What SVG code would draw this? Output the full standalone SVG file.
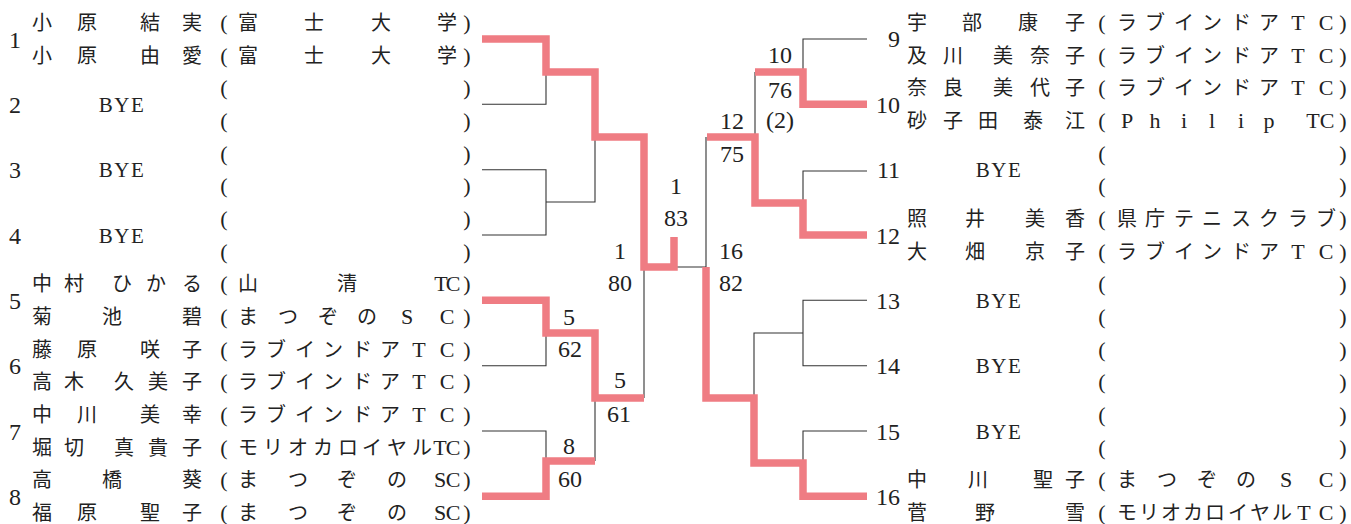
<svg xmlns="http://www.w3.org/2000/svg" width="1351" height="524" viewBox="0 0 1351 524">
<style>
.t{font-family:"Liberation Serif","Noto Sans CJK JP",serif;font-size:20px;fill:#222;text-anchor:middle}
.L{font-size:22px}
.p{font-size:22px}
.n{font-family:"Liberation Serif",serif;font-size:24px;fill:#222;text-anchor:middle}
.ne{font-family:"Liberation Serif",serif;font-size:24px;fill:#222;text-anchor:end}
.bye{font-family:"Liberation Serif",serif;font-size:21px;fill:#222;text-anchor:middle;letter-spacing:1.5px}
.ln{fill:none;stroke:#333;stroke-width:1.1}
.win{fill:none;stroke:#ef7c83;stroke-width:7.5;stroke-linejoin:miter;stroke-linecap:butt}
</style>
<rect width="1351" height="524" fill="#fff"/>
<g id="connectors">
<path class="ln" d="M482,104.3H546V72"/>
<path class="ln" d="M482,169.7H546V235H482M546,202H595V137"/>
<path class="ln" d="M482,365.7H546V333"/>
<path class="ln" d="M482,431H546V461"/>
<path class="ln" d="M595,398V461"/>
<path class="ln" d="M644,398V267"/>
<path class="ln" d="M674,267H706V137"/>
<path class="ln" d="M867,39H803V72"/>
<path class="ln" d="M755,72V137"/>
<path class="ln" d="M867,171H803V203"/>
<path class="ln" d="M867,300.3H803V365.7H867M803,333H754V398"/>
<path class="ln" d="M867,431H803V463"/>
<path class="win" d="M482,39H546V72H595V137H644V267H674V237"/>
<path class="win" d="M482,300.3H546V333H595V398H644"/>
<path class="win" d="M482,496.3H546V461H595"/>
<path class="win" d="M706,267V398H754V463H803V496.3H867"/>
<path class="win" d="M707,137H755V203H803V235H867"/>
<path class="win" d="M755,72H803V104.3H867"/>
</g>
<g id="scores">
<text class="n" x="569" y="325">5</text>
<text class="n" x="570" y="357">62</text>
<text class="n" x="620" y="388">5</text>
<text class="n" x="619" y="422">61</text>
<text class="n" x="569" y="454">8</text>
<text class="n" x="570" y="487">60</text>
<text class="n" x="620" y="259">1</text>
<text class="n" x="620" y="291">80</text>
<text class="n" x="676" y="194">1</text>
<text class="n" x="676" y="226">83</text>
<text class="n" x="731" y="259">16</text>
<text class="n" x="731" y="291">82</text>
<text class="n" x="732" y="129">12</text>
<text class="n" x="732" y="162">75</text>
<text class="n" x="780" y="63">10</text>
<text class="n" x="780" y="98">76</text>
<text class="n" x="780" y="128">(2)</text>
</g>
<g id="seed1">
<text class="n" x="15" y="47.5">1</text>
<text class="t" x="42 87 150 192 224 248 314 381 447 467" y="30">小原結実<tspan class="p">(</tspan>富士大学<tspan class="p">)</tspan></text>
<text class="t" x="42 87 150 192 224 248 314 381 447 467" y="62.7">小原由愛<tspan class="p">(</tspan>富士大学<tspan class="p">)</tspan></text>
</g>
<g id="seed2">
<text class="n" x="15" y="112.8">2</text>
<text class="bye" x="122" y="111.8">BYE</text>
<text class="t p" x="224 467" y="95.3">()</text>
<text class="t p" x="224 467" y="128">()</text>
</g>
<g id="seed3">
<text class="n" x="15" y="178.2">3</text>
<text class="bye" x="122" y="177.2">BYE</text>
<text class="t p" x="224 467" y="160.7">()</text>
<text class="t p" x="224 467" y="193.3">()</text>
</g>
<g id="seed4">
<text class="n" x="15" y="243.5">4</text>
<text class="bye" x="122" y="242.5">BYE</text>
<text class="t p" x="224 467" y="226">()</text>
<text class="t p" x="224 467" y="258.7">()</text>
</g>
<g id="seed5">
<text class="n" x="15" y="308.8">5</text>
<text class="t" x="42 74 122 156 192 224 248 347 441 453 467" y="291.3">中村ひかる<tspan class="p">(</tspan>山清<tspan class="L">TC</tspan><tspan class="p">)</tspan></text>
<text class="t" x="42 112 192 224 248 288 328 367 407 447 467" y="324">菊池碧<tspan class="p">(</tspan>まつぞの<tspan class="L">SC</tspan><tspan class="p">)</tspan></text>
</g>
<g id="seed6">
<text class="n" x="15" y="374.2">6</text>
<text class="t" x="42 87 150 192 224 248 276 305 333 362 390 419 447 467" y="356.7">藤原咲子<tspan class="p">(</tspan>ラブインドア<tspan class="L">TC</tspan><tspan class="p">)</tspan></text>
<text class="t" x="42 74 124 158 192 224 248 276 305 333 362 390 419 447 467" y="389.3">高木久美子<tspan class="p">(</tspan>ラブインドア<tspan class="L">TC</tspan><tspan class="p">)</tspan></text>
</g>
<g id="seed7">
<text class="n" x="15" y="439.5">7</text>
<text class="t" x="42 87 150 192 224 248 276 305 333 362 390 419 447 467" y="422">中川美幸<tspan class="p">(</tspan>ラブインドア<tspan class="L">TC</tspan><tspan class="p">)</tspan></text>
<text class="t" x="42 74 124 158 192 224 248 273 298 323 348 372 397 422 440 453 467" y="454.7">堀切真貴子<tspan class="p">(</tspan>モリオカロイヤル<tspan class="L">TC</tspan><tspan class="p">)</tspan></text>
</g>
<g id="seed8">
<text class="n" x="15" y="504.8">8</text>
<text class="t" x="42 112 192 224 248 298 347 397 440 453 467" y="487.3">高橋葵<tspan class="p">(</tspan>まつぞの<tspan class="L">SC</tspan><tspan class="p">)</tspan></text>
<text class="t" x="42 87 150 192 224 248 298 347 397 440 453 467" y="520">福原聖子<tspan class="p">(</tspan>まつぞの<tspan class="L">SC</tspan><tspan class="p">)</tspan></text>
</g>
<g id="seed9">
<text class="ne" x="900" y="46.5">9</text>
<text class="t" x="917 972 1028 1075 1102 1127 1155 1184 1212 1241 1269 1298 1326 1343" y="30">宇部康子<tspan class="p">(</tspan>ラブインドア<tspan class="L">TC</tspan><tspan class="p">)</tspan></text>
<text class="t" x="917 953 1003 1040 1075 1102 1127 1155 1184 1212 1241 1269 1298 1326 1343" y="62.7">及川美奈子<tspan class="p">(</tspan>ラブインドア<tspan class="L">TC</tspan><tspan class="p">)</tspan></text>
</g>
<g id="seed10">
<text class="ne" x="900" y="112.8">10</text>
<text class="t" x="917 953 1003 1040 1075 1102 1127 1155 1184 1212 1241 1269 1298 1326 1343" y="95.3">奈良美代子<tspan class="p">(</tspan>ラブインドア<tspan class="L">TC</tspan><tspan class="p">)</tspan></text>
<text class="t" x="917 953 988 1033 1075 1102 1127 1155 1184 1212 1241 1269 1292 1313 1327 1343" y="128">砂子田泰江<tspan class="p">(</tspan><tspan class="L">Philip TC</tspan><tspan class="p">)</tspan></text>
</g>
<g id="seed11">
<text class="ne" x="900" y="178.2">11</text>
<text class="bye" x="999" y="177.2">BYE</text>
<text class="t p" x="1102 1343" y="160.7">()</text>
<text class="t p" x="1102 1343" y="193.3">()</text>
</g>
<g id="seed12">
<text class="ne" x="900" y="243.5">12</text>
<text class="t" x="917 975 1035 1075 1102 1127 1155 1184 1212 1241 1269 1298 1326 1343" y="226">照井美香<tspan class="p">(</tspan>県庁テニスクラブ<tspan class="p">)</tspan></text>
<text class="t" x="917 975 1035 1075 1102 1127 1155 1184 1212 1241 1269 1298 1326 1343" y="258.7">大畑京子<tspan class="p">(</tspan>ラブインドア<tspan class="L">TC</tspan><tspan class="p">)</tspan></text>
</g>
<g id="seed13">
<text class="ne" x="900" y="308.8">13</text>
<text class="bye" x="999" y="307.8">BYE</text>
<text class="t p" x="1102 1343" y="291.3">()</text>
<text class="t p" x="1102 1343" y="324">()</text>
</g>
<g id="seed14">
<text class="ne" x="900" y="374.2">14</text>
<text class="bye" x="999" y="373.2">BYE</text>
<text class="t p" x="1102 1343" y="356.7">()</text>
<text class="t p" x="1102 1343" y="389.3">()</text>
</g>
<g id="seed15">
<text class="ne" x="900" y="439.5">15</text>
<text class="bye" x="999" y="438.5">BYE</text>
<text class="t p" x="1102 1343" y="422">()</text>
<text class="t p" x="1102 1343" y="454.7">()</text>
</g>
<g id="seed16">
<text class="ne" x="900" y="504.8">16</text>
<text class="t" x="917 978 1043 1075 1102 1127 1167 1207 1246 1286 1326 1343" y="487.3">中川聖子<tspan class="p">(</tspan>まつぞの<tspan class="L">SC</tspan><tspan class="p">)</tspan></text>
<text class="t" x="917 985 1075 1102 1127 1149 1171 1193 1215 1238 1260 1282 1304 1326 1343" y="520">菅野雪<tspan class="p">(</tspan>モリオカロイヤル<tspan class="L">TC</tspan><tspan class="p">)</tspan></text>
</g>
</svg>
